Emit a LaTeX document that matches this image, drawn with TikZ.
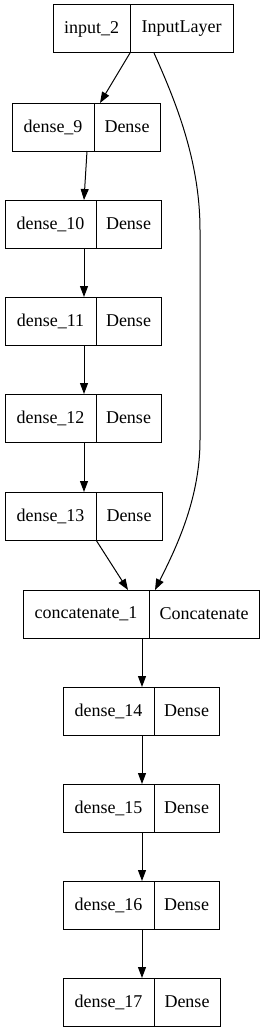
\documentclass[tikz,border=0pt]{standalone}
\usepackage{fontspec}
\setmainfont{Liberation Serif}
\usetikzlibrary{arrows.meta}
\tikzset{
  cell/.style={draw, line width=1pt, minimum height=48pt, inner sep=0pt, outer sep=0pt, anchor=west,
    font=\fontsize{18}{20}\selectfont},
  edge/.style={line width=1pt, -{Triangle[length=11pt,width=8pt]}}
}
% name, x-left, y-center, w1, w2, t1, t2
\newcommand\mklayer[7]{%
  \node[cell, minimum width=#4pt] (#1l) at (#2pt,-#3pt) {#6};
  \node[cell, minimum width=#5pt] (#1r) at (#1l.east) {#7};
}
\begin{document}
\begin{tikzpicture}
\useasboundingbox (0,0) rectangle (265pt,-1033pt);
\mklayer{in}{53}{29}{77}{103}{input\_2}{InputLayer}
\mklayer{dA}{12}{127}{82}{66}{dense\_9}{Dense}
\mklayer{dB}{5}{224}{91}{65}{dense\_10}{Dense}
\mklayer{dC}{5}{321}{91}{65}{dense\_11}{Dense}
\mklayer{dD}{5}{418}{91}{65}{dense\_12}{Dense}
\mklayer{dE}{5}{516}{91}{66}{dense\_13}{Dense}
\mklayer{cc}{23}{614}{126}{110}{concatenate\_1}{Concatenate}
\mklayer{dF}{63}{711}{91}{65}{dense\_14}{Dense}
\mklayer{dG}{63}{808}{91}{65}{dense\_15}{Dense}
\mklayer{dH}{63}{905}{91}{65}{dense\_16}{Dense}
\mklayer{dI}{63}{1002}{91}{66}{dense\_17}{Dense}

\draw[edge] (inl.south east) -- ([xshift=6pt]dAl.north east);
\draw[edge] ([xshift=-7pt]dAl.south east) -- ([xshift=-12pt]dBl.north east);
\draw[edge] ([xshift=-12pt]dBl.south east) -- ([xshift=-12pt]dCl.north east);
\draw[edge] ([xshift=-12pt]dCl.south east) -- ([xshift=-12pt]dDl.north east);
\draw[edge] ([xshift=-12pt]dDl.south east) -- ([xshift=-12pt]dEl.north east);
\draw[edge] (dEl.south east) -- ([xshift=-21pt]ccl.north east);
\draw[edge] ([xshift=24pt]inl.south east) .. controls (175pt,-100pt) and (200pt,-160pt) .. (200pt,-230pt)
  -- (200pt,-440pt) .. controls (200pt,-500pt) and (175pt,-550pt) .. ([xshift=6pt]ccl.north east);
\draw[edge] ([xshift=-7pt]ccl.south east) -- ([xshift=-12pt]dFl.north east);
\draw[edge] ([xshift=-12pt]dFl.south east) -- ([xshift=-12pt]dGl.north east);
\draw[edge] ([xshift=-12pt]dGl.south east) -- ([xshift=-12pt]dHl.north east);
\draw[edge] ([xshift=-12pt]dHl.south east) -- ([xshift=-12pt]dIl.north east);
\end{tikzpicture}
\end{document}
